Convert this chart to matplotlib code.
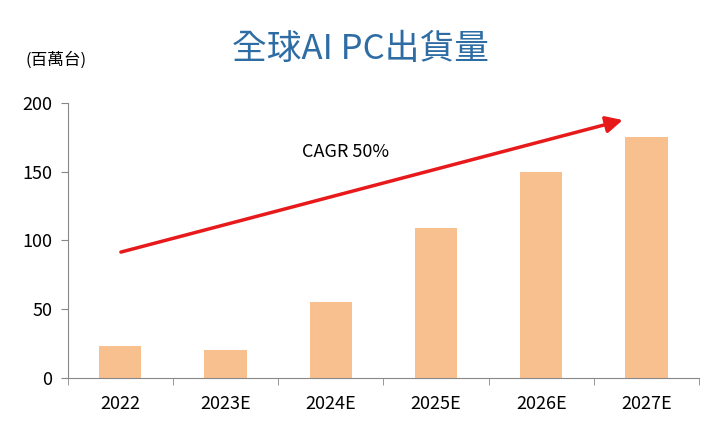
import matplotlib
matplotlib.use("Agg")
import matplotlib.pyplot as plt
import numpy as np

plt.rcParams['font.family'] = ['Noto Sans CJK TC', 'DejaVu Sans']

years = ['2022', '2023E', '2024E', '2025E', '2026E', '2027E']
shipments = [23, 20, 55, 109, 150, 175]
arrow_start = (-0.02, 91)
arrow_end = (4.8, 188)

fig = plt.figure(figsize=(7.2, 4.32), dpi=100)
ax = fig.add_axes([0.094, 0.125, 0.877, 0.637])

x = np.arange(len(years))
ax.bar(x, shipments, width=0.4, color='#f9c08f')

ax.set_xlim(-0.5, len(years) - 0.5)
ax.set_ylim(0, 200)
ax.set_yticks([0, 50, 100, 150, 200])
ax.set_xticks(x)
ax.set_xticklabels(years)
ax.set_xticks(np.arange(-0.5, len(years)), minor=True)
ax.tick_params(axis='x', which='major', length=0, pad=12, labelsize=13)
ax.tick_params(axis='x', which='minor', length=5, color='#888888')
ax.tick_params(axis='y', length=5, color='#888888', labelsize=13, pad=6)
for s in ['top', 'right']:
    ax.spines[s].set_visible(False)
for s in ['left', 'bottom']:
    ax.spines[s].set_color('#888888')

ax.annotate('', xy=arrow_end, xytext=arrow_start,
            arrowprops=dict(arrowstyle='-|>', color='#e8191b', lw=2.5,
                            mutation_scale=25))
ax.text(2.14, 164, 'CAGR 50%', fontsize=13, ha='center', va='center')

fig.text(0.5, 0.885, '全球AI PC出貨量', fontsize=25, color='#2e6ca4',
         ha='center', va='center', fontweight='medium')
fig.text(0.035, 0.86, '(百萬台)', fontsize=12, ha='left', va='center')

fig.savefig('out.png', dpi=100)
